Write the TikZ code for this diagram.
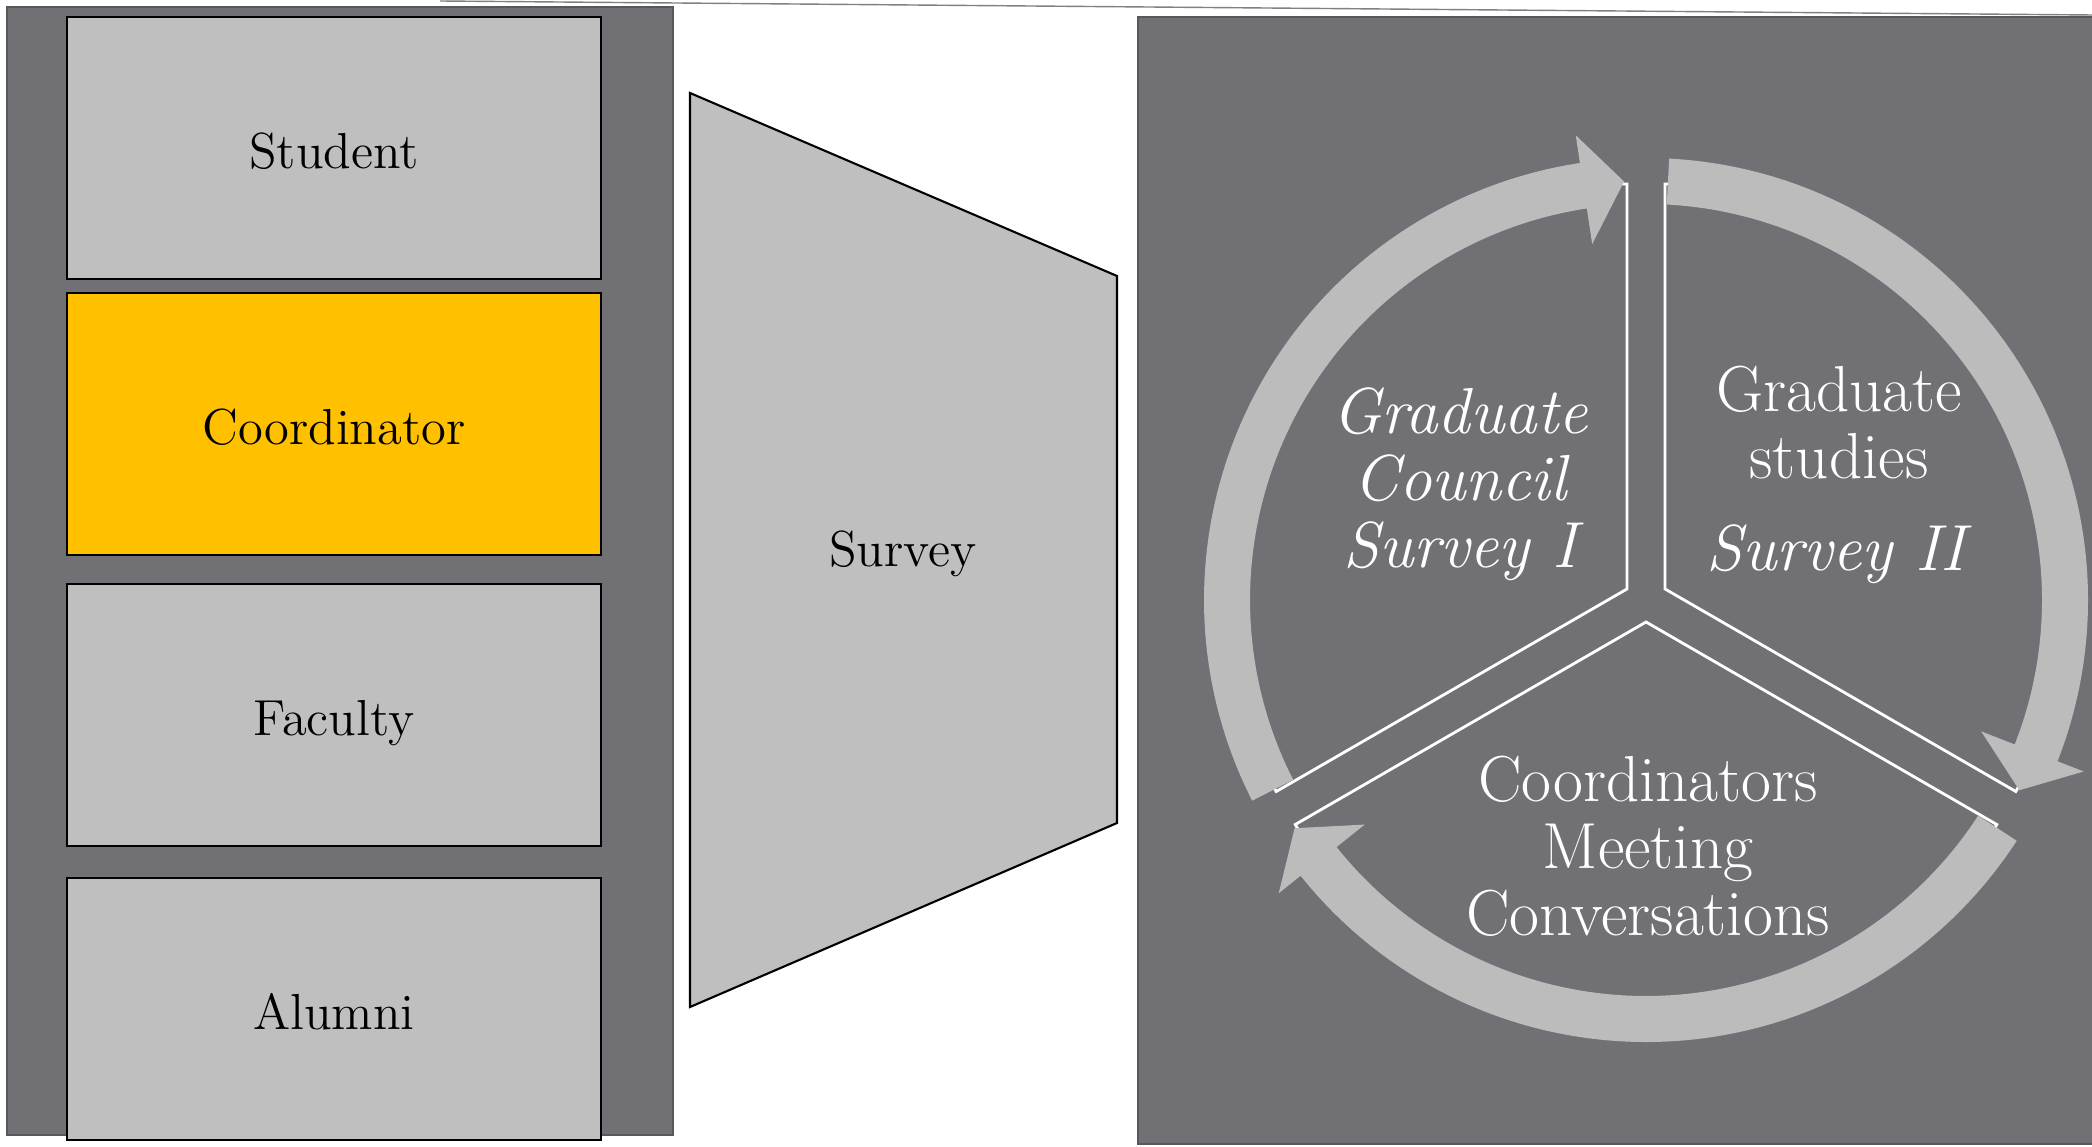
\documentclass[tikz,border=0pt]{standalone}
\usepackage{xcolor}
\definecolor{panelgray}{RGB}{113,112,117}
\definecolor{boxgray}{RGB}{191,191,191}
\definecolor{ringgray}{RGB}{188,188,188}
\definecolor{gold}{RGB}{255,192,0}
\definecolor{edgegray}{RGB}{88,88,90}

\begin{document}
\begin{tikzpicture}
  [x=0.01cm,y=-0.01cm,
   box/.style={draw=black,line width=0.6pt,fill=boxgray,minimum width=5.34cm,minimum height=2.62cm,
     text height=13.4pt,text depth=2pt,font=\fontsize{14.4}{17}\selectfont},
   cycletext/.style={text=white,align=center,font=\fontsize{18.5}{19}\selectfont}]
  \useasboundingbox (0,0) rectangle (2092,1146);
  \draw[gray,line width=0.4pt] (440,1) -- (2092,15);

  % left column
  \filldraw[fill=panelgray,draw=edgegray,line width=0.6pt] (7,7) rectangle (673,1135);
  \node[box] (student) at (334,148) {Student};
  \node[box,fill=gold] (coord) at (334,424) {Coordinator};
  \node[box] (faculty) at (334,715) {Faculty};
  \node[box] (alumni) at (334,1009) {Alumni};

  % funnel
  \filldraw[fill=boxgray,draw=black,line width=0.6pt] (690,93) -- (1117,276) -- (1117,823) -- (690,1007) -- cycle;
  \node[font=\fontsize{14.4}{17}\selectfont] (survey) at (903,554) {Survey};

  % cycle
  \filldraw[fill=panelgray,draw=edgegray,line width=0.6pt] (1138,17) rectangle (2110,1144);
  \begin{scope}[shift={(1646,600)},y=0.01cm]
    \foreach \m/\p/\q in {150/90/210,30/-30/90,270/210/330}
      \draw[white,line width=0.8pt] (\m:22) -- ++(\p:405) arc[start angle=\p,end angle=\q,radius=405] -- cycle;
    \foreach \a/\b/\t in {207/98.6/93,87/-21.4/-27,-33/-141.4/-147}
      \fill[ringgray] (\a:442) arc[start angle=\a,end angle=\b,radius=442] -- (\b:470) -- (\t:419) -- (\b:360) -- (\b:396) arc[start angle=\b,end angle=\a,radius=396] -- cycle;
  \end{scope}
  \node[cycletext,font=\fontsize{18.5}{19}\selectfont\itshape] (council) at (1460,484) {Graduate\\Council\\Survey I};
  \node[cycletext] (studies) at (1839,475) {Graduate\\studies\\[7pt]\textit{Survey II}};
  \node[cycletext] (meeting) at (1648,846) {Coordinators\\Meeting\\Conversations};
\end{tikzpicture}
\end{document}
